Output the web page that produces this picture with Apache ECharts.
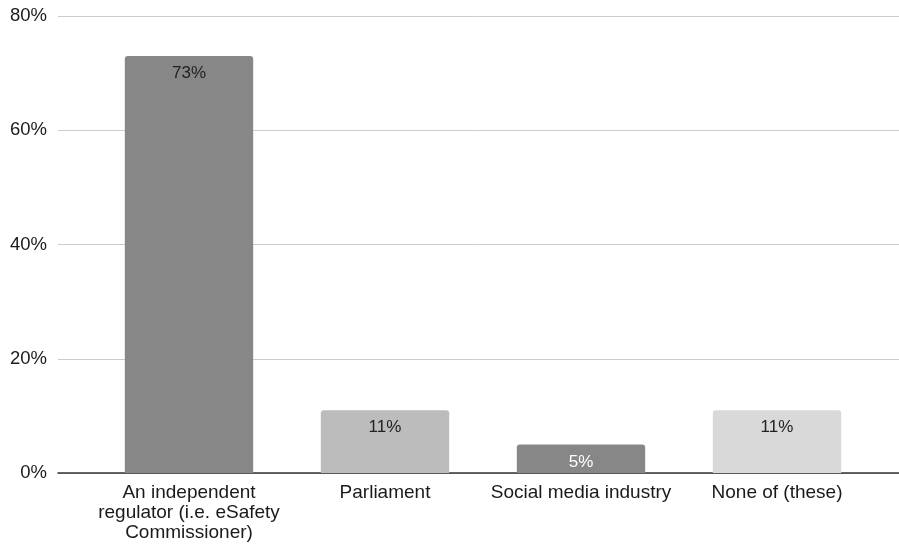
<!DOCTYPE html>
<html>
<head>
<meta charset="utf-8">
<script src="https://cdn.jsdelivr.net/npm/echarts@6/dist/echarts.min.js"></script>
<style>
  html, body { margin: 0; padding: 0; background: #fff; }
  #chart { width: 899px; height: 544px; }
</style>
</head>
<body>
<div id="chart"></div>
<script>
// data
var categories = ['An independent\nregulator (i.e. eSafety\nCommissioner)', 'Parliament', 'Social media industry', 'None of (these)'];
var values = [73, 11, 5, 11];
var barColors = ['#878787', '#bcbcbc', '#878787', '#d9d9d9'];
var labelColors = ['#222', '#222', '#fff', '#222'];
var yTicks = [0, 20, 40, 60, 80];

var myChart = echarts.init(document.getElementById('chart'));
var font = 'Liberation Sans, Arial, sans-serif';

var option = {
    animation: false,
    grid: [
        // bars
        { left: 91, right: 24, top: 16, bottom: 71 },
        // wide grid only for gridlines / y labels
        { left: 58, right: 0, top: 16, bottom: 71 }
    ],
    xAxis: [
        {
            type: 'category',
            gridIndex: 0,
            data: categories,
            axisLine: { show: false },
            axisTick: { show: false },
            axisLabel: {
                color: '#1a1a1a',
                fontFamily: font,
                fontSize: 19,
                lineHeight: 20,
                margin: 10,
                interval: 0
            }
        },
        {
            type: 'value',
            gridIndex: 1,
            min: 0,
            max: 1,
            show: true,
            axisLine: { show: true, lineStyle: { color: '#333', width: 1.5 } },
            axisTick: { show: false },
            axisLabel: { show: false },
            splitLine: { show: false }
        }
    ],
    yAxis: [
        {
            type: 'value',
            gridIndex: 0,
            min: 0,
            max: yTicks[yTicks.length - 1],
            interval: 20,
            show: false
        },
        {
            type: 'value',
            gridIndex: 1,
            min: 0,
            max: yTicks[yTicks.length - 1],
            interval: 20,
            axisLine: { show: false },
            axisTick: { show: false },
            axisLabel: {
                formatter: '{value}%',
                color: '#1a1a1a',
                fontFamily: font,
                fontSize: 18.5,
                margin: 11
            },
            splitLine: { lineStyle: { color: '#cccccc', width: 1 } }
        }
    ],
    series: [
        {
            type: 'bar',
            xAxisIndex: 0,
            yAxisIndex: 0,
            barWidth: '65.5%',
            z: 3,
            data: values.map(function (v, i) {
                return {
                    value: v,
                    itemStyle: { color: barColors[i], borderRadius: [3, 3, 0, 0] },
                    label: { color: labelColors[i] }
                };
            }),
            label: {
                show: true,
                position: 'insideTop',
                distance: 9,
                formatter: '{c}%',
                fontFamily: font,
                fontSize: 17
            }
        }
    ]
};
myChart.setOption(option);
</script>
</body>
</html>
